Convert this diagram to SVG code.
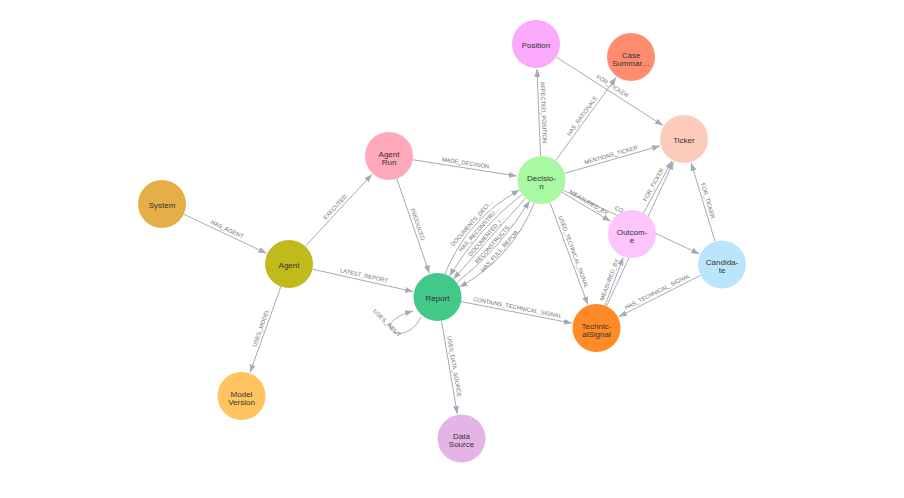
<svg xmlns="http://www.w3.org/2000/svg" width="904" height="498" viewBox="0 0 904 498">
<style>
.e{stroke:#A5ABB6;stroke-width:1;fill:none}
.ea{stroke:#A5ABB6;stroke-width:1;fill:none;marker-end:url(#arr)}
.l{font-family:'Liberation Sans',Arial,sans-serif;font-size:5.8px;fill:#707070;text-anchor:middle;dominant-baseline:central}
.n text{font-family:'Liberation Sans',Arial,sans-serif;font-size:8px;fill:#333333;text-anchor:middle}
</style>
<defs>
<marker id="arr" markerWidth="8" markerHeight="7" refX="8" refY="3.5" orient="auto" markerUnits="userSpaceOnUse">
<path d="M0,0.5 L8,3.5 L0,6.5 Z" fill="#A5ABB6"/>
</marker>
</defs>
<rect width="904" height="498" fill="#ffffff"/>
<g id="connectors">
<path class="ea" d="M183.7,214.2 L266.4,253.3"/>
<path class="ea" d="M305.3,246.4 L372,174.3"/>
<path class="ea" d="M312.4,269.2 L413.1,291.6"/>
<path class="ea" d="M280.9,286.6 L250,372.5"/>
<path class="ea" d="M412.7,159.7 L516.8,176.1"/>
<path class="ea" d="M396.8,178.7 L429.4,273.3"/>
<path class="ea" d="M421,317 C405,350 365,325 413,311"/>
<path class="ea" d="M441.5,320.7 L457.3,413.9"/>
<path class="ea" d="M461.1,301.6 L572,323.2"/>
<path class="ea" d="M444.8,274.1 Q467.2,218.7 519.6,189.9"/>
<path class="ea" d="M522.2,194.3 Q478.3,228.6 449.4,276.1"/>
<path class="ea" d="M525.6,198 L453.4,279.1"/>
<path class="ea" d="M456.8,282.7 Q500.7,248.4 529.6,200.9"/>
<path class="ea" d="M534.3,202.9 Q511.9,258.3 459.4,287.1"/>
<path class="ea" d="M540.5,156 L537,69"/>
<path class="ea" d="M555.6,160.6 L616.3,77.2"/>
<path class="ea" d="M564.6,173.4 L660,145.9"/>
<path class="ea" d="M556.2,57 L663,125.5"/>
<path class="ea" d="M562.1,192.3 L610.5,221.2"/>
<path class="ea" d="M563.2,190.2 L699.4,253.9"/>
<path class="ea" d="M643.5,213 L672,160.9"/>
<path class="ea" d="M606.6,306.2 L673.5,161.7"/>
<path class="ea" d="M605,305.6 L623.2,257.4"/>
<path class="ea" d="M715,241.5 L691.2,162.9"/>
<path class="ea" d="M700.6,275.3 L618.8,316.7"/>
<path class="ea" d="M549.9,202.5 L587.8,304.6"/>
<text class="l" transform="translate(227.1,229.2) rotate(25.3)">HAS_AGENT</text>
<text class="l" transform="translate(335,207) rotate(-47.2)">EXECUTED</text>
<text class="l" transform="translate(363.9,275.5) rotate(12.5)">LATEST_REPORT</text>
<text class="l" transform="translate(260.8,327.9) rotate(-70.2)">USES_MODEL</text>
<text class="l" transform="translate(465.6,163) rotate(8.95)">MADE_DECISION</text>
<text class="l" transform="translate(417.8,224.4) rotate(71)">PRODUCED</text>
<text class="l" transform="translate(387,323) rotate(45)">USES_INPUT</text>
<text class="l" transform="translate(454.3,366.5) rotate(80.4)">USES_DATA_SOURCE</text>
<text class="l" transform="translate(517.5,307.5) rotate(11)">CONTAINS_TECHNICAL_SIGNAL</text>
<text class="l" transform="translate(471.7,222.7) rotate(-48.4)">DOCUMENTS_DECI…</text>
<text class="l" transform="translate(479,229.2) rotate(-48.4)">HAS_RECONSTRU…</text>
<text class="l" transform="translate(486.5,235.8) rotate(-48.4)">DOCUMENTED_I…</text>
<text class="l" transform="translate(494,242.4) rotate(-48.4)">RECONSTRUCTS…</text>
<text class="l" transform="translate(501.4,249) rotate(-48.4)">HAS_FULL_REPOR…</text>
<text class="l" transform="translate(543.7,112.3) rotate(87.7)">AFFECTED_POSITION</text>
<text class="l" transform="translate(582,116) rotate(-54)">HAS_RATIONALE</text>
<text class="l" transform="translate(610.9,154.9) rotate(-16.1)">MENTIONS_TICKER</text>
<text class="l" transform="translate(612.5,86) rotate(32.7)">FOR_TICKER</text>
<text class="l" transform="translate(588.9,202.5) rotate(30.8)">MEASURED_BY</text>
<text class="l" style="text-anchor:start" transform="translate(615,207.5) rotate(25.1)">CO…</text>
<text class="l" transform="translate(609.4,279.7) rotate(-69.3)">MEASURED_BY</text>
<text class="l" transform="translate(653.4,184.6) rotate(-61.3)">FOR_TICKER</text>
<text class="l" transform="translate(707.9,200.8) rotate(73.2)">FOR_TICKER</text>
<text class="l" transform="translate(657.4,291.5) rotate(-26.8)">HAS_TECHNICAL_SIGNAL</text>
<text class="l" transform="translate(573.6,251.9) rotate(69.6)">USED_TECHNICAL_SIGNAL</text>
</g>
<g id="system" class="n"><circle cx="162" cy="204" r="24" fill="#E6AE48"/><text x="162" y="207.8">System</text></g>
<g id="agent" class="n"><circle cx="289" cy="264" r="24" fill="#C0BA1D"/><text x="289" y="267.8">Agent</text></g>
<g id="agent-run" class="n"><circle cx="389" cy="156" r="24" fill="#FFA8BA"/><text x="389" y="156.8">Agent</text><text x="389" y="164.8">Run</text></g>
<g id="decision" class="n"><circle cx="541.5" cy="180" r="24" fill="#A9F8A2"/><text x="541.5" y="180.8">Decisio-</text><text x="541.5" y="188.8">n</text></g>
<g id="report" class="n"><circle cx="437.5" cy="297" r="24" fill="#42C98A"/><text x="437.5" y="300.8">Report</text></g>
<g id="position" class="n"><circle cx="536" cy="44" r="24" fill="#FBA9FB"/><text x="536" y="47.8">Position</text></g>
<g id="case-summary" class="n"><circle cx="631" cy="57" r="24" fill="#FF8B70"/><text x="631" y="57.8">Case</text><text x="631" y="65.8">Summar…</text></g>
<g id="ticker" class="n"><circle cx="684" cy="139" r="24" fill="#FDCBBA"/><text x="684" y="142.8">Ticker</text></g>
<g id="outcome" class="n"><circle cx="632" cy="234" r="24" fill="#FDC5FB"/><text x="632" y="234.8">Outcom-</text><text x="632" y="242.8">e</text></g>
<g id="candidate" class="n"><circle cx="722" cy="264.5" r="24" fill="#BBE5FB"/><text x="722" y="265.3">Candida-</text><text x="722" y="273.3">te</text></g>
<g id="technical-signal" class="n"><circle cx="596.5" cy="328" r="24" fill="#FF8A27"/><text x="596.5" y="328.8">Technic-</text><text x="596.5" y="336.8">alSignal</text></g>
<g id="model-version" class="n"><circle cx="241.5" cy="396" r="24" fill="#FFC45F"/><text x="241.5" y="396.8">Model</text><text x="241.5" y="404.8">Version</text></g>
<g id="data-source" class="n"><circle cx="461.5" cy="438.5" r="24" fill="#E4B4E6"/><text x="461.5" y="439.3">Data</text><text x="461.5" y="447.3">Source</text></g>
</svg>
